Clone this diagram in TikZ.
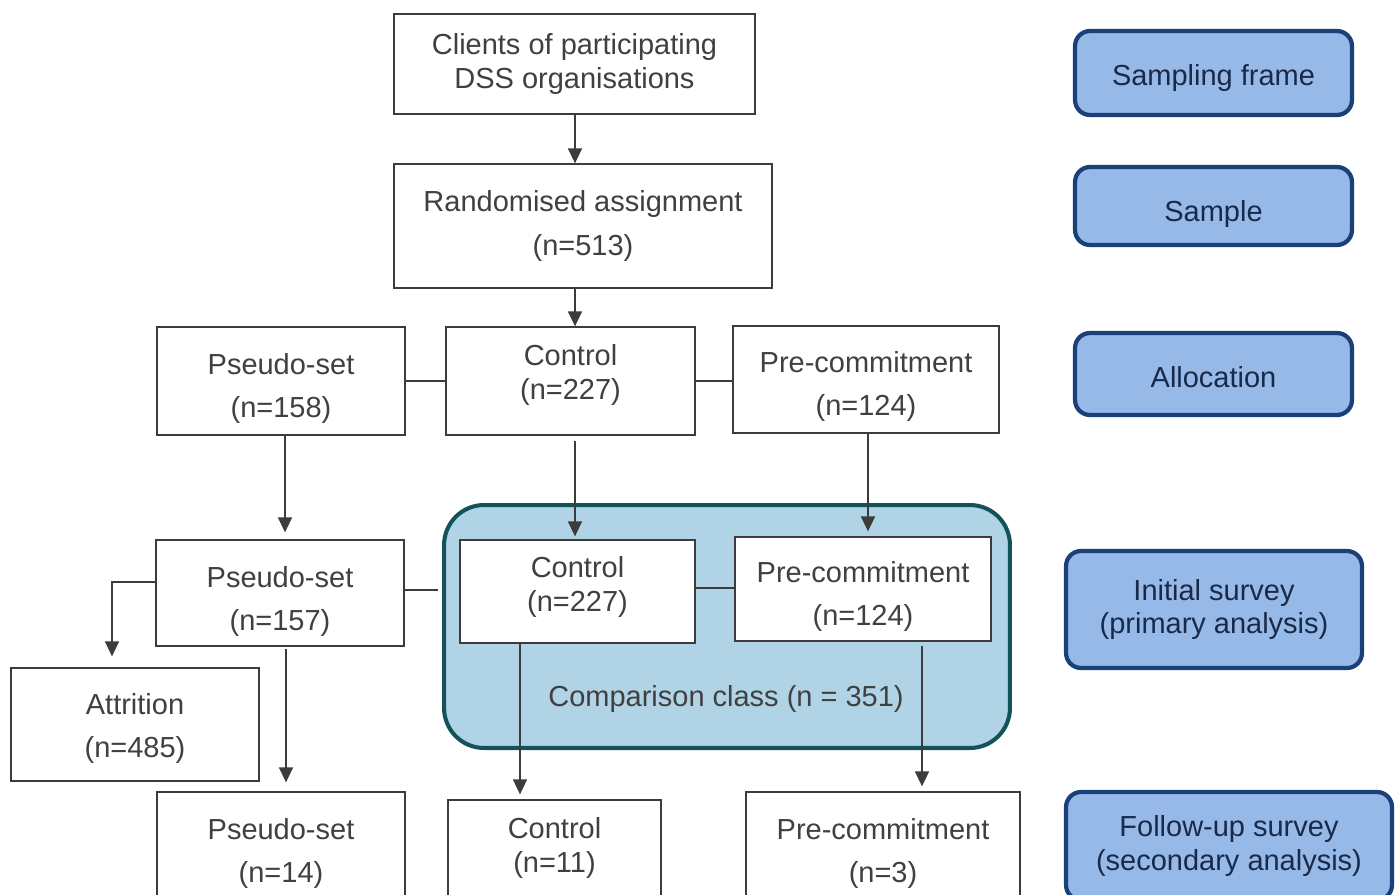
\documentclass[tikz,border=0pt]{standalone}
\usepackage{fontspec}
\setmainfont{Liberation Sans}
\usetikzlibrary{arrows.meta}
\begin{document}
\begin{tikzpicture}[x=0.02cm, y=-0.02cm,
  box/.style={draw=boxline, line width=0.75pt, fill=white, text=txtgray, align=center,
    font=\fontsize{16.5}{19}\selectfont, inner sep=0pt},
  stage/.style={draw=stageedge, line width=2.4pt, fill=stagefill, rounded corners=0.3cm,
    text=stagetext, align=center, font=\fontsize{16.5}{19}\selectfont, inner sep=0pt,
    minimum width=5.54cm},
  arr/.style={draw=boxline, line width=0.9pt, -{Triangle[width=0.28cm,length=0.3cm]}},
  link/.style={draw=boxline, line width=0.9pt}]
\definecolor{txtgray}{RGB}{64,64,64}
\definecolor{boxline}{RGB}{60,60,60}
\definecolor{cmpfill}{RGB}{176,211,229}
\definecolor{cmpedge}{RGB}{17,83,89}
\definecolor{stagefill}{RGB}{151,185,232}
\definecolor{stageedge}{RGB}{26,64,122}
\definecolor{stagetext}{RGB}{24,42,74}
\useasboundingbox (0,0) rectangle (1399,895);
% comparison class
\node[draw=cmpedge, line width=2.3pt, fill=cmpfill, rounded corners=0.8cm,
  minimum width=11.32cm, minimum height=4.86cm] (cmp) at (727,626.5) {};
\node[text=txtgray, font=\fontsize{16.5}{19}\selectfont] (cmplabel) at (726,699) {Comparison class (n = 351)};
% flow
\node[box, minimum width=7.22cm, minimum height=2.0cm] (clients) at (574.5,64) {Clients of participating\\DSS organisations};
\node[box, minimum width=7.56cm, minimum height=2.48cm] (rand) at (583,226) {Randomised assignment\\[5.5pt](n=513)};
\node[box, minimum width=4.96cm, minimum height=2.16cm] (pseudoA) at (281,381) {\rule{0pt}{21pt}Pseudo-set\\[5.5pt](n=158)};
\node[box, minimum width=4.98cm, minimum height=2.16cm] (ctrlA) at (570.5,381) {Control\\(n=227)\rule[-10.3pt]{0pt}{10.3pt}};
\node[box, minimum width=5.32cm, minimum height=2.14cm] (preA) at (866,379.5) {\rule{0pt}{20pt}Pre-commitment\\[5.5pt](n=124)};
\node[box, minimum width=4.96cm, minimum height=2.12cm] (pseudoB) at (280,593) {\rule{0pt}{21.7pt}Pseudo-set\\[5.5pt](n=157)};
\node[box, minimum width=4.7cm, minimum height=2.06cm] (ctrlB) at (577.5,591.5) {Control\\(n=227)\rule[-8.6pt]{0pt}{8.6pt}};
\node[box, minimum width=5.12cm, minimum height=2.08cm] (preB) at (863,589) {\rule{0pt}{21pt}Pre-commitment\\[5.5pt](n=124)};
\node[box, minimum width=4.96cm, minimum height=2.26cm] (attr) at (135,724.5) {\rule{0pt}{17pt}Attrition\\[5.5pt](n=485)};
\node[box, minimum width=4.96cm, minimum height=2.32cm] (pseudoC) at (281,850) {\rule{0pt}{15.4pt}Pseudo-set\\[5.5pt](n=14)};
\node[box, minimum width=4.26cm, minimum height=2.08cm] (ctrlC) at (554.5,852) {Control\\(n=11)\rule[-8pt]{0pt}{8pt}};
\node[box, minimum width=5.48cm, minimum height=2.34cm] (preC) at (883,850.5) {\rule{0pt}{15.4pt}Pre-commitment\\[5.5pt](n=3)};
% stages
\node[stage, minimum height=1.68cm] (frame) at (1213.5,73) {\rule{0pt}{17.7pt}Sampling frame};
\node[stage, minimum height=1.56cm] (sample) at (1213.5,206) {\rule{0pt}{21pt}Sample};
\node[stage, minimum height=1.64cm] (alloc) at (1213.5,374) {\rule{0pt}{15.4pt}Allocation};
\node[stage, minimum width=5.92cm, minimum height=2.34cm] (initial) at (1214,609.5) {Initial survey\\(primary analysis)};
\node[stage, minimum width=6.52cm, minimum height=2.16cm] (follow) at (1229,846) {Follow-up survey\\(secondary analysis)};
% connectors
\draw[arr] (575,0 |- clients.south) -- (575,0 |- rand.north);
\draw[arr] (575,0 |- rand.south) -- (575,0 |- ctrlA.north);
\draw[link] (pseudoA.east) -- (ctrlA.west);
\draw[link] (ctrlA.east) -- (ctrlA.east -| preA.west);
\draw[arr, shorten >=0.14cm] (285,0 |- pseudoA.south) -- (285,0 |- pseudoB.north);
\draw[arr, shorten <=0.1cm, shorten >=0.06cm] (575,0 |- ctrlA.south) -- (575,0 |- ctrlB.north);
\draw[arr, shorten >=0.1cm] (868,0 |- preA.south) -- (868,0 |- preB.north);
\draw[link, shorten >=0.08cm] (pseudoB.east |- 0,590) -- (cmp.west |- 0,590);
\draw[link] (ctrlB.east |- 0,588) -- (preB.west |- 0,588);
\draw[arr, shorten >=0.22cm] (pseudoB.west |- 0,582) -| (112,0 |- attr.north);
\draw[arr, shorten <=0.04cm, shorten >=0.18cm] (286,0 |- pseudoB.south) -- (286,0 |- pseudoC.north);
\draw[arr, shorten >=0.1cm] (520,0 |- ctrlB.south) -- (520,0 |- ctrlC.north);
\draw[arr, shorten <=0.08cm, shorten >=0.1cm] (922,0 |- preB.south) -- (922,0 |- preC.north);
\end{tikzpicture}
\end{document}
